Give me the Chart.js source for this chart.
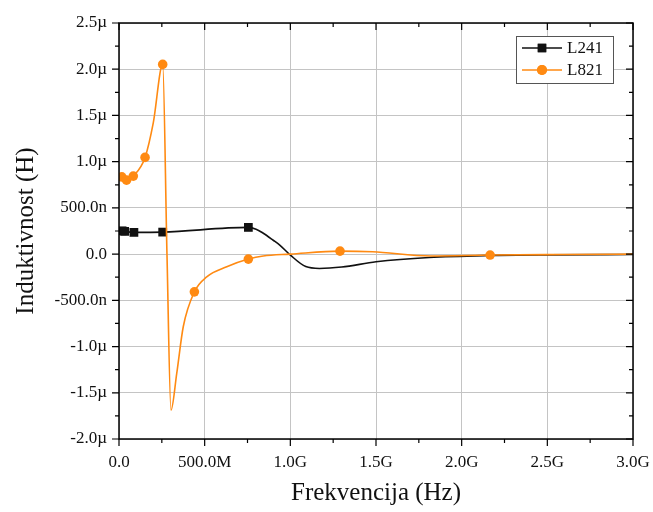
<!DOCTYPE html>
<html>
<head>
<meta charset="utf-8">
<script src="https://cdn.jsdelivr.net/npm/chart.js@4.4.1/dist/chart.umd.min.js"></script>
<style>
  html, body { margin: 0; padding: 0; background: #fff; }
  #wrap { width: 653px; height: 512px; }
</style>
</head>
<body>
<div id="wrap"><canvas id="indChart" width="653" height="512"></canvas></div>
<script>
// frekvencija u GHz, induktivnost u µH
const freqL241 = [0.018, 0.033, 0.087, 0.255, 0.755, 0.80, 0.84, 0.90, 0.94, 1.00, 1.09, 1.17, 1.30, 1.50, 1.81, 2.16, 2.50, 3.00];
const indL241  = [0.252, 0.246, 0.235, 0.238, 0.289, 0.270, 0.228, 0.150, 0.095, -0.010, -0.135, -0.155, -0.140, -0.083, -0.036, -0.015, -0.008, -0.005];
const markL241 = [0, 1, 2, 3, 4];

const freqL821 = [0.016, 0.044, 0.0835, 0.152, 0.200, 0.255, 0.280, 0.3035, 0.337, 0.375, 0.440, 0.512, 0.629, 0.755, 0.842, 1.00, 1.29, 1.48, 1.82, 2.166, 2.60, 3.00];
const indL821  = [0.836, 0.800, 0.844, 1.046, 1.420, 2.052, 0.000, -1.688, -1.290, -0.786, -0.408, -0.246, -0.137, -0.054, -0.020, 0.000, 0.032, 0.025, -0.020, -0.010, -0.004, 0.000];
const markL821 = [0, 1, 2, 3, 5, 10, 13, 16, 19];

const seriesNames = ['L241', 'L821'];
const xTickLabels = ['0.0', '500.0M', '1.0G', '1.5G', '2.0G', '2.5G', '3.0G'];
const yTickLabels = ['-2.0µ', '-1.5µ', '-1.0µ', '-500.0n', '0.0', '500.0n', '1.0µ', '1.5µ', '2.0µ', '2.5µ'];

const serif = "'Liberation Serif', 'Times New Roman', serif";
const black = '#111111';
const orange = '#ff8a12';

const toPoints = (xs, ys) => xs.map((x, i) => ({ x: x, y: ys[i] }));

// okvir, sporedne crtice i legenda unutar grafa
const framePlugin = {
    id: 'frame',
    afterDraw(chart) {
        const ctx = chart.ctx;
        const a = chart.chartArea;
        const xs = chart.scales.x, ys = chart.scales.y;
        ctx.save();
        ctx.strokeStyle = '#000';
        ctx.lineWidth = 1.5;
        ctx.strokeRect(a.left, a.top, a.right - a.left, a.bottom - a.top);

        ctx.lineWidth = 1.2;
        ctx.beginPath();
        for (let v = 0; v <= 3.0001; v += 0.25) {
            const px = xs.getPixelForValue(v);
            const len = Math.abs(v / 0.5 - Math.round(v / 0.5)) < 1e-6 ? 7 : 4;
            ctx.moveTo(px, a.bottom); ctx.lineTo(px, a.bottom + len);
            ctx.moveTo(px, a.top); ctx.lineTo(px, a.top + len);
        }
        for (let v = -2; v <= 2.5001; v += 0.25) {
            const py = ys.getPixelForValue(v);
            const len = Math.abs(v / 0.5 - Math.round(v / 0.5)) < 1e-6 ? 7 : 4;
            ctx.moveTo(a.left, py); ctx.lineTo(a.left - len, py);
            ctx.moveTo(a.right, py); ctx.lineTo(a.right - len, py);
        }
        ctx.stroke();

        // legenda
        const bx = 516, by = 36, bw = 97, bh = 47;
        ctx.fillStyle = '#fff';
        ctx.fillRect(bx, by, bw, bh);
        ctx.strokeStyle = '#555';
        ctx.lineWidth = 1;
        ctx.strokeRect(bx + 0.5, by + 0.5, bw, bh);
        const colors = [black, orange];
        const styles = ['rect', 'circle'];
        const radii = [6, 5];
        seriesNames.forEach((name, i) => {
            const cy = by + 12 + i * 22;
            ctx.strokeStyle = colors[i];
            ctx.lineWidth = 1.5;
            ctx.beginPath();
            ctx.moveTo(bx + 6, cy); ctx.lineTo(bx + 46, cy);
            ctx.stroke();
            ctx.fillStyle = colors[i];
            Chart.helpers.drawPoint(ctx, { pointStyle: styles[i], radius: radii[i], borderWidth: 0 }, bx + 26, cy);
            ctx.fill();
            ctx.fillStyle = '#111';
            ctx.font = '17px ' + serif;
            ctx.textBaseline = 'middle';
            ctx.textAlign = 'left';
            ctx.fillText(name, bx + 51, cy + 1);
        });
        ctx.restore();
    }
};

new Chart(document.getElementById('indChart'), {
    type: 'line',
    data: {
        datasets: [{
            label: seriesNames[0],
            data: toPoints(freqL241, indL241),
            borderColor: black,
            backgroundColor: black,
            borderWidth: 1.6,
            pointStyle: 'rect',
            pointRadius: ctx => markL241.includes(ctx.dataIndex) ? 6.2 : 0,
            pointBorderWidth: 0,
            cubicInterpolationMode: 'monotone',
            order: 1
        }, {
            label: seriesNames[1],
            data: toPoints(freqL821, indL821),
            borderColor: orange,
            backgroundColor: orange,
            borderWidth: 1.6,
            pointStyle: 'circle',
            pointRadius: ctx => markL821.includes(ctx.dataIndex) ? 4.8 : 0,
            pointBorderWidth: 0,
            cubicInterpolationMode: 'monotone',
            order: 0
        }]
    },
    options: {
        responsive: false,
        animation: false,
        events: [],
        layout: { padding: { left: 7, right: 20, top: 23, bottom: 0 } },
        plugins: {
            legend: { display: false },
            tooltip: { enabled: false }
        },
        scales: {
            x: {
                type: 'linear',
                min: 0,
                max: 3,
                afterFit: s => { s.height = 73; s.paddingLeft = 0; s.paddingRight = 0; },
                afterBuildTicks: s => { s.ticks = xTickLabels.map((t, i) => ({ value: i * 0.5 })); },
                ticks: {
                    padding: 13,
                    color: '#111',
                    font: { family: serif, size: 17 },
                    callback: (v, i) => xTickLabels[i]
                },
                grid: { color: '#c4c4c4', lineWidth: 1, drawTicks: false },
                border: { display: false },
                title: {
                    display: true,
                    text: 'Frekvencija (Hz)',
                    color: '#111',
                    font: { family: serif, size: 25 }
                }
            },
            y: {
                type: 'linear',
                min: -2,
                max: 2.5,
                afterFit: s => { s.width = 112; s.paddingTop = 0; s.paddingBottom = 0; },
                afterBuildTicks: s => { s.ticks = yTickLabels.map((t, i) => ({ value: -2 + i * 0.5 })); },
                ticks: {
                    padding: 12,
                    color: '#111',
                    font: { family: serif, size: 17 },
                    callback: (v, i) => yTickLabels[i]
                },
                grid: { color: '#c4c4c4', lineWidth: 1, drawTicks: false },
                border: { display: false },
                title: {
                    display: true,
                    text: 'Induktivnost (H)',
                    color: '#111',
                    font: { family: serif, size: 25 }
                }
            }
        }
    },
    plugins: [framePlugin]
});
</script>
</body>
</html>
